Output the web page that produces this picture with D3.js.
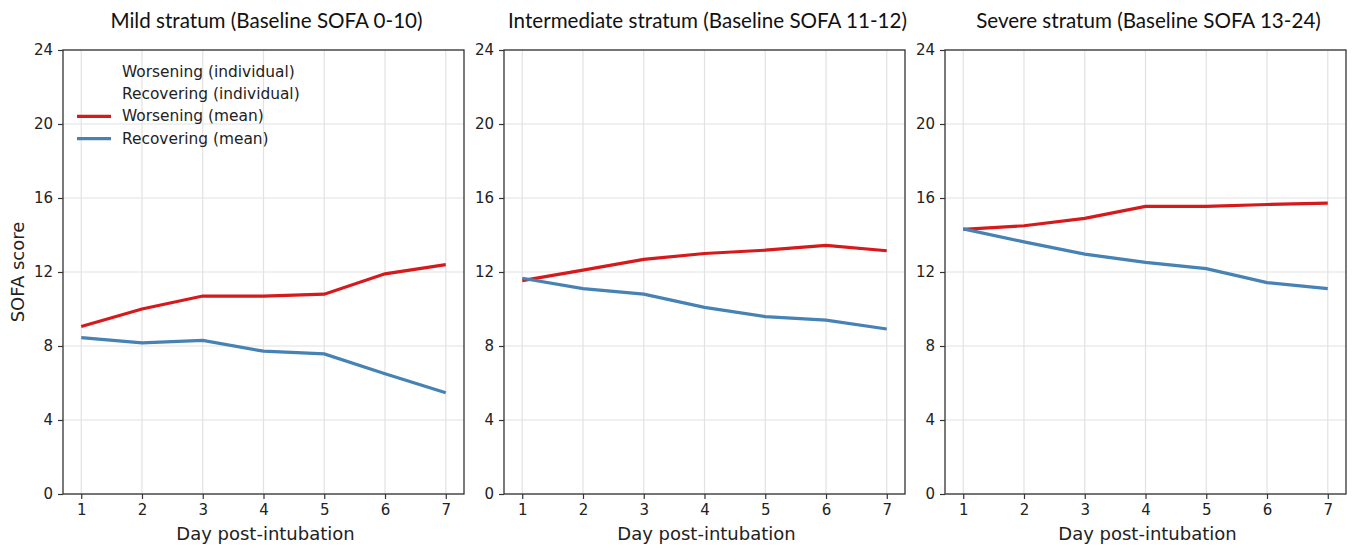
<!DOCTYPE html>
<html>
<head>
<meta charset="utf-8">
<script src="https://cdn.jsdelivr.net/npm/d3@7"></script>
<style>
  body { margin: 0; background: #fff; }
</style>
</head>
<body>
<div id="chart"></div>
<script>
// data
var days = [1, 2, 3, 4, 5, 6, 7];
var yTicks = [0, 4, 8, 12, 16, 20, 24];
var titles = [
  "Mild stratum (Baseline SOFA 0-10)",
  "Intermediate stratum (Baseline SOFA 11-12)",
  "Severe stratum (Baseline SOFA 13-24)"
];
var mildWorse = [9.05, 10.0, 10.7, 10.7, 10.8, 11.9, 12.4];
var mildRecover = [8.45, 8.17, 8.3, 7.72, 7.57, 6.5, 5.47];
var interWorse = [11.53, 12.1, 12.68, 13.0, 13.18, 13.44, 13.15];
var interRecover = [11.66, 11.1, 10.8, 10.09, 9.59, 9.4, 8.92];
var severeWorse = [14.3, 14.5, 14.9, 15.55, 15.55, 15.65, 15.72];
var severeRecover = [14.33, 13.63, 12.97, 12.52, 12.18, 11.43, 11.1];
var legendLabels = ["Worsening (individual)", "Recovering (individual)", "Worsening (mean)", "Recovering (mean)"];

var panels = [
  { title: titles[0], worse: mildWorse, recover: mildRecover },
  { title: titles[1], worse: interWorse, recover: interRecover },
  { title: titles[2], worse: severeWorse, recover: severeRecover }
];

var width = 1352, height = 549;
var red = "#d7191c", blue = "#4682b4";

var svg = d3.select("#chart").append("svg")
  .attr("width", width)
  .attr("height", height);

// panel left edges
var panelLeft = [63, 504, 945];
var panelW = 401;
var plotTop = 50, plotBottom = 494;

var y = d3.scaleLinear().domain([0, 24]).range([plotBottom, plotTop]);

panels.forEach(function(p, i) {
  var x = d3.scaleLinear().domain([0.7, 7.3]).range([panelLeft[i], panelLeft[i] + panelW]);
  var g = svg.append("g");

  // grid
  g.selectAll(".vgrid").data(days).enter().append("line")
    .attr("x1", function(d) { return x(d); })
    .attr("x2", function(d) { return x(d); })
    .attr("y1", plotTop).attr("y2", plotBottom)
    .attr("stroke", "#e2e2e2").attr("stroke-width", 1.2);
  g.selectAll(".hgrid").data(yTicks).enter().append("line")
    .attr("x1", panelLeft[i]).attr("x2", panelLeft[i] + panelW)
    .attr("y1", function(d) { return y(d); })
    .attr("y2", function(d) { return y(d); })
    .attr("stroke", "#e2e2e2").attr("stroke-width", 1.2);

  // lines
  var line = d3.line()
    .x(function(d, j) { return x(days[j]); })
    .y(function(d) { return y(d); });
  g.append("path").datum(p.worse)
    .attr("d", line).attr("fill", "none")
    .attr("stroke", red).attr("stroke-width", 3.2);
  g.append("path").datum(p.recover)
    .attr("d", line).attr("fill", "none")
    .attr("stroke", blue).attr("stroke-width", 3.2);

  // axes
  var xAxis = d3.axisBottom(x).tickValues(days).tickFormat(d3.format("d")).tickSize(5).tickPadding(5);
  var yAxis = d3.axisLeft(y).tickValues(yTicks).tickFormat(d3.format("d")).tickSize(5).tickPadding(5);
  var gx = g.append("g").attr("transform", "translate(0," + plotBottom + ")").call(xAxis);
  var gy = g.append("g").attr("transform", "translate(" + panelLeft[i] + ",0)").call(yAxis);
  [gx, gy].forEach(function(a) {
    a.attr("font-family", "DejaVu Sans, sans-serif").attr("font-size", 15);
    a.select(".domain").remove();
    a.selectAll(".tick line").attr("stroke", "#333").attr("stroke-width", 1.2);
    a.selectAll(".tick text").attr("fill", "#222");
  });

  // frame
  g.append("rect")
    .attr("x", panelLeft[i]).attr("y", plotTop)
    .attr("width", panelW).attr("height", plotBottom - plotTop)
    .attr("fill", "none").attr("stroke", "#333").attr("stroke-width", 1.3);

  // title
  g.append("text")
    .attr("x", panelLeft[i] + panelW / 2 + 3)
    .attr("y", 28)
    .attr("text-anchor", "middle")
    .attr("font-family", "Lato, 'Open Sans', sans-serif")
    .attr("font-size", 20.6)
    .attr("fill", "#111")
    .text(p.title);

  // x label
  g.append("text")
    .attr("x", panelLeft[i] + panelW / 2 + 2)
    .attr("y", 540)
    .attr("text-anchor", "middle")
    .attr("font-family", "DejaVu Sans, sans-serif")
    .attr("font-size", 18)
    .attr("fill", "#222")
    .text("Day post-intubation");
});

// y label
svg.append("text")
  .attr("transform", "translate(24,272)rotate(-90)")
  .attr("text-anchor", "middle")
  .attr("font-family", "DejaVu Sans, sans-serif")
  .attr("font-size", 18)
  .attr("fill", "#222")
  .text("SOFA score");

// legend
var legend = svg.append("g").attr("transform", "translate(77,71)");
var legendColors = [red, blue, red, blue];
var legendOpacity = [0, 0, 1, 1];
legendLabels.forEach(function(lab, k) {
  var ly = k * 22.2;
  legend.append("line")
    .attr("x1", 0).attr("x2", 34)
    .attr("y1", ly + 1).attr("y2", ly + 1)
    .attr("stroke", legendColors[k]).attr("stroke-width", 3.2)
    .attr("stroke-opacity", legendOpacity[k]);
  legend.append("text")
    .attr("x", 45).attr("y", ly + 6)
    .attr("font-family", "DejaVu Sans, sans-serif")
    .attr("font-size", 15.4)
    .attr("fill", "#222")
    .text(lab);
});
</script>
</body>
</html>
